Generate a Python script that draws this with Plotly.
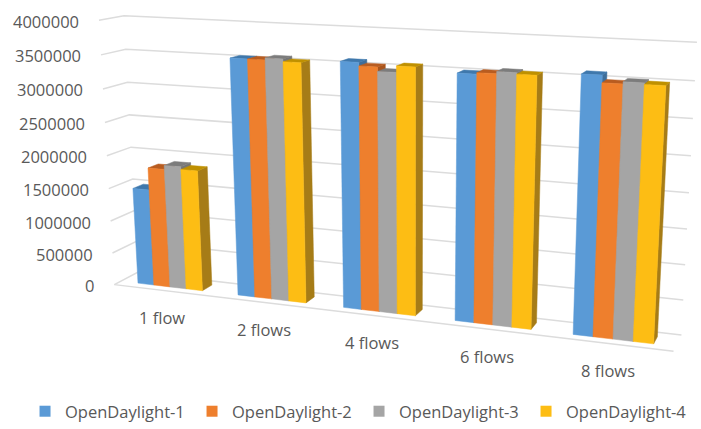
import numpy as np
import plotly.graph_objects as go

categories = ["1 flow", "2 flows", "4 flows", "6 flows", "8 flows"]
series_names = ["OpenDaylight-1", "OpenDaylight-2", "OpenDaylight-3", "OpenDaylight-4"]
opendaylight_1 = [1485000, 3530000, 3570000, 3500000, 3580000]
opendaylight_2 = [1820000, 3530000, 3520000, 3520000, 3480000]
opendaylight_3 = [1880000, 3560000, 3460000, 3550000, 3510000]
opendaylight_4 = [1840000, 3520000, 3550000, 3530000, 3490000]
tick_values = [0, 500000, 1000000, 1500000, 2000000, 2500000, 3000000, 3500000, 4000000]
AXIS_MAX = 4000000

front_colors = ["#5A9AD6", "#EE7F2D", "#A5A5A5", "#FDBD14"]
top_colors = ["#3F78AC", "#B85C20", "#7C7C7C", "#BF9000"]
side_colors = ["#3E6E9A", "#A8551D", "#757575", "#A67C17"]
GRID = "#DCDCDC"
TEXT = "#595959"

# The chart is a 3-D Excel column chart: a projective camera takes
# (category position u, depth v, height w), each 0..1, to the page.
box_corners = [(0, 0, 0), (1, 0, 0), (0, 1, 0), (1, 1, 0), (0, 0, 1), (1, 0, 1), (0, 1, 1), (1, 1, 1)]
page_corners = [(115, 283), (673, 352), (137, 274), (682, 334), (98, 21), (690, 49), (125, 15), (696, 42)]

rows, rhs = [], []
for (a, b, c), (px, py) in zip(box_corners, page_corners):
    rows.append([a, b, c, 1, 0, 0, 0, 0, -px * a, -px * b, -px * c]); rhs.append(px)
    rows.append([0, 0, 0, 0, a, b, c, 1, -py * a, -py * b, -py * c]); rhs.append(py)
cam = np.append(np.linalg.lstsq(np.array(rows, float), np.array(rhs, float), rcond=None)[0], 1.0).reshape(3, 4)


def project(u, v, w):
    h = cam @ np.array([u, v, w, 1.0])
    return float(h[0] / h[2]), float(h[1] / h[2])


def polygon(points):
    pts = [project(*p) for p in points]
    pts.append(pts[0])
    return [p[0] for p in pts], [p[1] for p in pts]


fig = go.Figure()

# Gridlines on the side and back walls, and the floor edge
gx, gy = [], []
for t in tick_values:
    w = t / AXIS_MAX
    for p in [project(0, 0, w), project(0, 1, w), project(1, 1, w)]:
        gx.append(p[0]); gy.append(p[1])
    gx.append(None); gy.append(None)
a, b = project(0, 0, 0), project(1, 0, 0)
gx += [a[0], b[0]]; gy += [a[1], b[1]]
fig.add_trace(go.Scatter(x=gx, y=gy, mode="lines", line=dict(color=GRID, width=1.5),
                         showlegend=False, hoverinfo="skip"))

all_series = [opendaylight_1, opendaylight_2, opendaylight_3, opendaylight_4]
n_cat, n_ser = len(categories), len(all_series)
CAT = 1 / n_cat
CLUSTER = 0.65 * CAT
START = 0.175 * CAT
V0, V1 = 0.28, 0.72


def face(pts, color):
    x, y = polygon(pts)
    fig.add_trace(go.Scatter(x=x, y=y, mode="lines", fill="toself", fillcolor=color,
                             line=dict(color=color, width=0.5), showlegend=False, hoverinfo="skip"))


for c in range(n_cat):
    for s in range(n_ser):
        u0 = c * CAT + START + s * CLUSTER / n_ser
        u1 = u0 + CLUSTER / n_ser
        w = all_series[s][c] / AXIS_MAX
        face([(u1, V0, 0), (u1, V1, 0), (u1, V1, w), (u1, V0, w)], side_colors[s])
        face([(u0, V0, w), (u1, V0, w), (u1, V1, w), (u0, V1, w)], top_colors[s])
        face([(u0, V0, 0), (u1, V0, 0), (u1, V0, w), (u0, V0, w)], front_colors[s])

# Value labels along the front-left edge
for t in tick_values:
    px, py = project(0, 0, t / AXIS_MAX)
    fig.add_annotation(x=px - 18, y=py + 1, text=str(t), showarrow=False, xanchor="right", yanchor="middle",
                       font=dict(family="Open Sans", size=16.5, color=TEXT))

# Category labels under the front edge
for c, name in enumerate(categories):
    px, py = project(c * CAT + START + CLUSTER / 2, 0, 0)
    fig.add_annotation(x=px - 2, y=py + 27, text=name, showarrow=False, xanchor="center", yanchor="middle",
                       font=dict(family="Open Sans", size=16.5, color=TEXT))

# Legend
for s, name in enumerate(series_names):
    fig.add_trace(go.Scatter(x=[None], y=[None], mode="markers", name=name,
                             marker=dict(symbol="square", size=11, color=front_colors[s])))

fig.update_layout(
    width=701, height=429, margin=dict(l=0, r=0, t=0, b=0, autoexpand=False),
    paper_bgcolor="white", plot_bgcolor="white",
    xaxis=dict(range=[0, 701], visible=False, fixedrange=True),
    yaxis=dict(range=[429, 0], visible=False, fixedrange=True),
    legend=dict(orientation="h", x=0.0357, xanchor="left", y=0.0, yanchor="bottom",
                entrywidth=122, entrywidthmode="pixels", bgcolor="rgba(0,0,0,0)",
                font=dict(family="Open Sans", size=16.5, color=TEXT), itemclick=False, itemdoubleclick=False),
)
fig.write_html("out.html", post_script="document.body.style.margin='0';", config={"displayModeBar": False})
